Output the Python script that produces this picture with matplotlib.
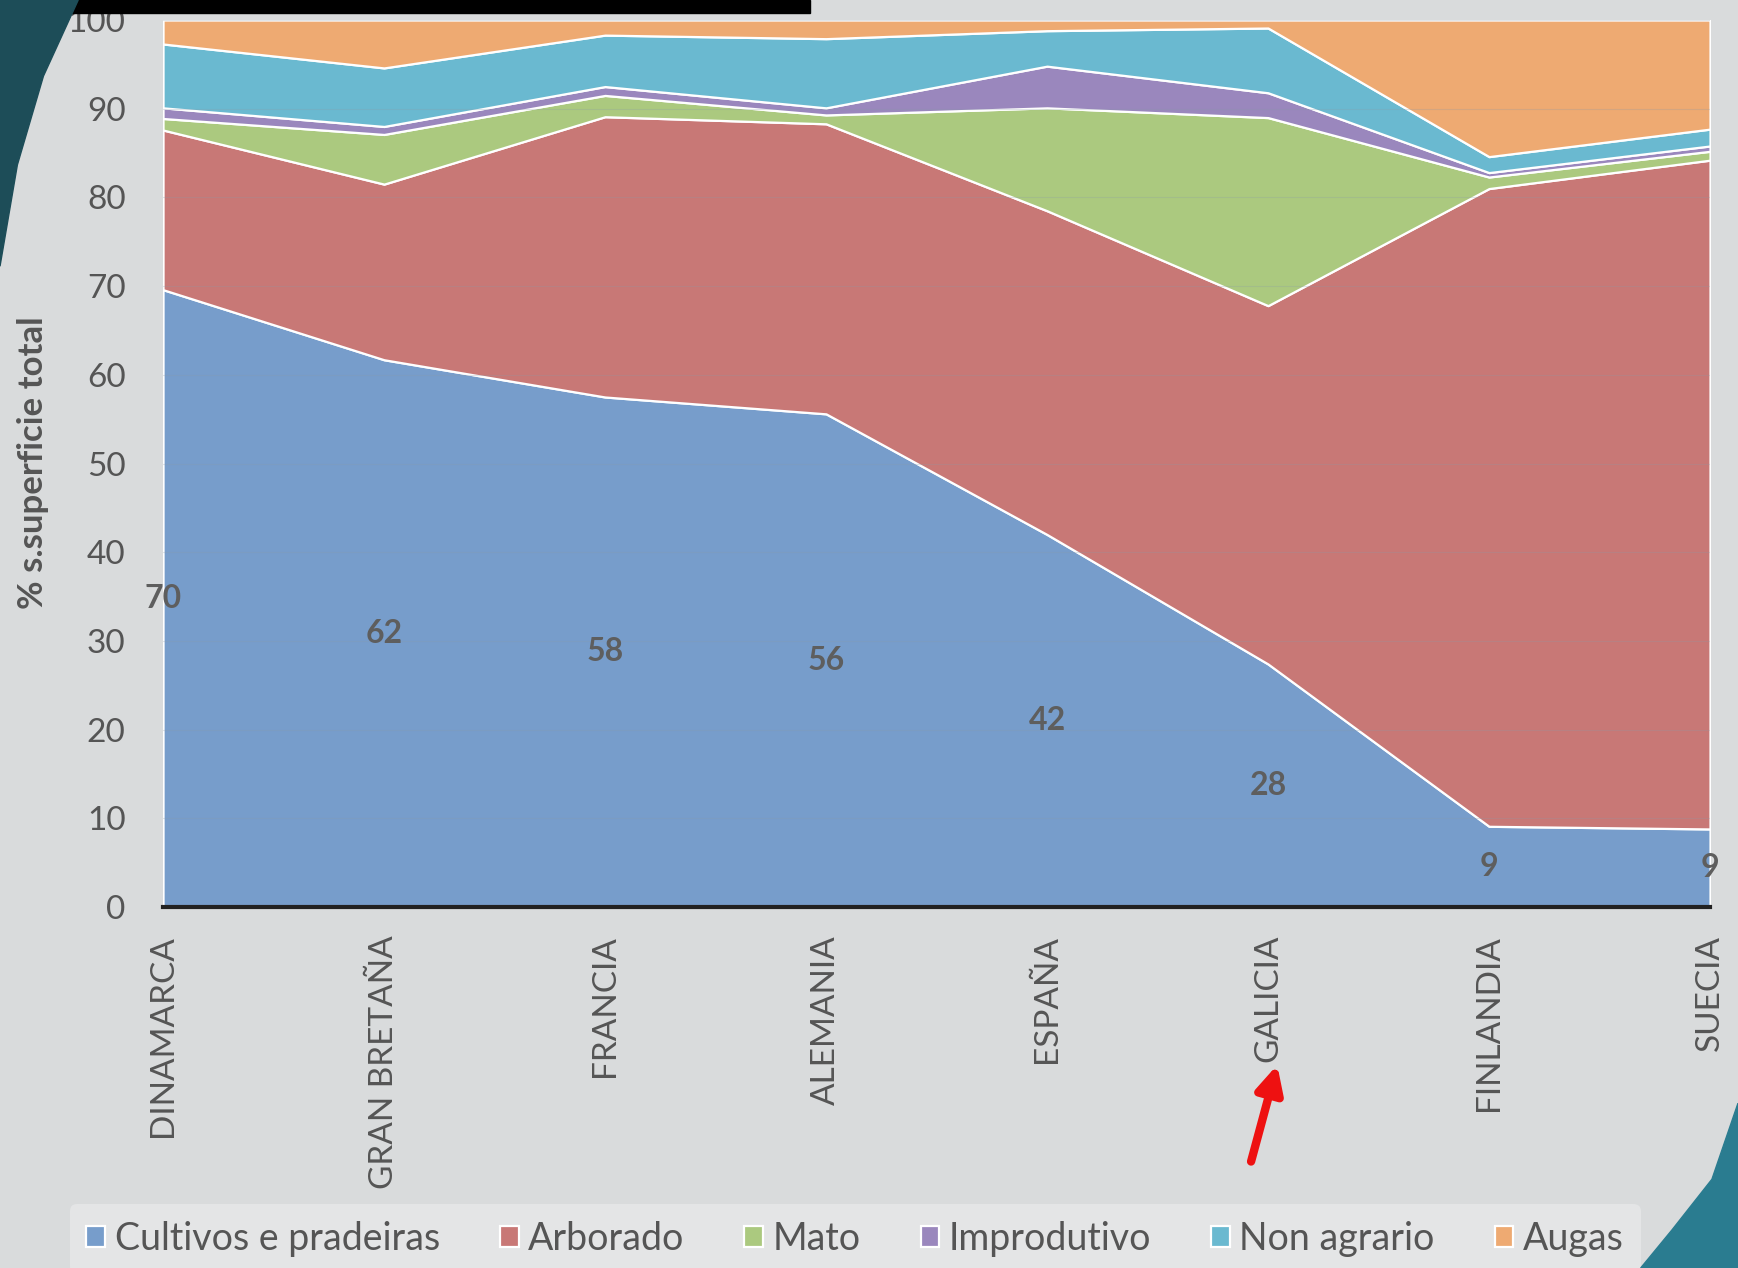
import matplotlib.pyplot as plt
from matplotlib.patches import Polygon, Rectangle

countries = ['DINAMARCA', 'GRAN BRETAÑA', 'FRANCIA', 'ALEMANIA',
             'ESPAÑA', 'GALICIA', 'FINLANDIA', 'SUECIA']
cultivos = [69.6, 61.7, 57.5, 55.6, 42.0, 27.4, 9.1, 8.8]
arborado = [18.0, 19.8, 31.6, 32.7, 36.5, 40.4, 71.9, 75.4]
mato = [1.3, 5.6, 2.4, 1.0, 11.6, 21.2, 1.3, 1.0]
improdutivo = [1.2, 0.9, 1.0, 0.8, 4.7, 2.8, 0.5, 0.6]
non_agrario = [7.2, 6.6, 5.8, 7.8, 4.0, 7.3, 1.8, 1.9]
augas = [2.7, 5.4, 1.7, 2.1, 1.2, 0.9, 15.4, 12.3]
labels = ['70', '62', '58', '56', '42', '28', '9', '9']

series_names = ['Cultivos e pradeiras', 'Arborado', 'Mato', 'Improdutivo',
                'Non agrario', 'Augas']
colors = ['#779dcb', '#c87876', '#abc97f', '#9a87bd', '#6ab9d0', '#eeaa72']

plt.rcParams['font.family'] = ['Lato', 'DejaVu Sans']

bg = '#d9dbdc'
fig = plt.figure(figsize=(17.38, 12.68), dpi=100, facecolor=bg)
ax = fig.add_axes([0.0938, 0.2847, 0.8901, 0.6995], facecolor=bg)

x = list(range(len(countries)))
ax.stackplot(x, cultivos, arborado, mato, improdutivo, non_agrario, augas,
             colors=colors, labels=series_names, edgecolor='white',
             linewidth=1.6, zorder=2)

for y in range(10, 101, 10):
    ax.axhline(y, color='#8a9aa8', lw=0.8, alpha=0.25, zorder=3)

for xi, c, lab in zip(x, cultivos, labels):
    ax.text(xi, c / 2, lab, ha='center', va='center', fontsize=23,
            fontweight='bold', color='#5e5e5e', zorder=4)

ax.set_xlim(0, len(countries) - 1)
ax.set_ylim(0, 100)
ax.set_yticks(range(0, 101, 10))
ax.set_xticks(x)
ax.set_xticklabels(countries, rotation=90, va='top', ha='center')
ax.tick_params(axis='y', length=0, pad=27, labelsize=24, labelcolor='#555555')
ax.tick_params(axis='x', length=0, pad=20, labelsize=24, labelcolor='#555555')
for s in ['top', 'right', 'left']:
    ax.spines[s].set_visible(False)
ax.spines['bottom'].set_color('#222222')
ax.spines['bottom'].set_linewidth(3)
ax.spines['bottom'].set_zorder(5)

fig.text(0.019, 0.635, '% s.superficie total', rotation=90, ha='center',
         va='center', fontsize=25, fontweight='bold', color='#555555')

leg = fig.legend(loc='center', bbox_to_anchor=(0.492, 0.023), ncol=6,
                 fontsize=27, frameon=True, handlelength=0.5,
                 handleheight=0.5, handletextpad=0.25, columnspacing=1.6,
                 borderpad=0.45, labelcolor='#555555')
leg.get_frame().set_facecolor('#e4e5e6')
leg.get_frame().set_edgecolor('none')
leg.get_frame().set_alpha(1)

# red arrow pointing at GALICIA
ax.annotate('', xy=(5.045, -0.175), xycoords=('data', 'axes fraction'),
            xytext=(4.92, -0.29), textcoords=('data', 'axes fraction'),
            arrowprops=dict(arrowstyle='-|>', color='#ee1111', lw=6,
                            mutation_scale=40), annotation_clip=False)

# slide decorations
fig.patches.append(Rectangle((0, 0.99), 0.466, 0.01, transform=fig.transFigure,
                             color='black', zorder=10))
fig.patches.append(Polygon([(0, 1), (0.045, 1), (0.025, 0.94), (0.01, 0.87),
                            (0, 0.79)], closed=True, transform=fig.transFigure,
                           color='#1d4d58', zorder=10))
fig.patches.append(Polygon([(1, 0.13), (0.985, 0.07), (0.962, 0.03),
                            (0.944, 0), (1, 0)], closed=True,
                           transform=fig.transFigure, color='#2a7c90',
                           zorder=10))

fig.savefig('out.png', dpi=100, facecolor=bg)
